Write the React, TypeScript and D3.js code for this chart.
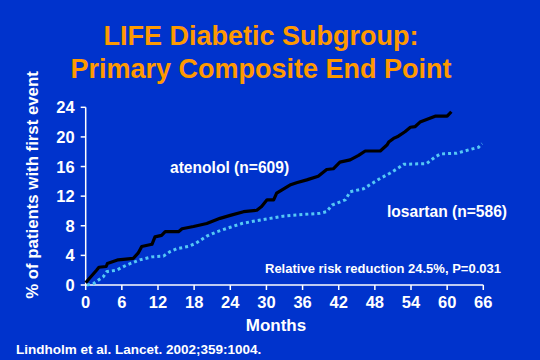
import React, { useEffect, useRef } from 'react';
import * as d3 from 'd3';

// months, cumulative % with first event
const atenololMonths = [0, 0.2, 1.8, 2.2, 3.4, 3.6, 5.4, 7.9, 8.7, 9.3, 11, 11.5, 12.6, 13.2, 15.4, 16, 17.9, 20.1, 22.3, 24, 26.2, 28.4, 29.2, 30.1, 31.2, 31.7, 33.9, 35, 36.7, 38.6, 40, 41.1, 42.2, 43.9, 45.3, 46.4, 48.9, 50, 50.3, 51.1, 51.9, 53, 53.9, 54.7, 55.5, 58, 60, 60.7];
const atenololValues = [0.3, 0.5, 2.0, 2.4, 2.5, 2.9, 3.4, 3.6, 4.3, 5.2, 5.5, 6.5, 6.7, 7.2, 7.2, 7.6, 7.9, 8.3, 9.0, 9.4, 9.9, 10.1, 10.6, 11.5, 11.5, 12.4, 13.5, 13.8, 14.2, 14.7, 15.6, 15.7, 16.6, 16.9, 17.5, 18.1, 18.1, 18.9, 19.3, 19.8, 20.1, 20.7, 21.3, 21.4, 22.0, 22.8, 22.8, 23.4];

const losartanMonths = [0.2, 1.3, 2.9, 3.5, 5.1, 6.8, 9, 11, 12.9, 14, 15.1, 17, 18.2, 20.1, 21.8, 24, 25.9, 28.4, 30.6, 32.8, 38.9, 40, 40.9, 43.1, 43.9, 46.1, 48.9, 50.5, 51.7, 52.8, 56.6, 58, 58.9, 61.6, 63.8, 65.2, 65.8];
const losartanValues = [0, 0.2, 1.1, 1.8, 2.0, 2.7, 3.4, 3.8, 3.9, 4.5, 4.9, 5.2, 5.6, 6.6, 7.2, 7.8, 8.3, 8.7, 9.0, 9.3, 9.7, 9.9, 10.8, 11.5, 12.6, 13.0, 14.4, 15.1, 15.7, 16.3, 16.4, 17.3, 17.7, 17.8, 18.3, 18.6, 19.1];

const xTicks = [0, 6, 12, 18, 24, 30, 36, 42, 48, 54, 60, 66];
const yTicks = [0, 4, 8, 12, 16, 20, 24];

const titleLines = ['LIFE Diabetic Subgroup:', 'Primary Composite End Point'];

export default function App() {
  const svgRef = useRef<SVGSVGElement>(null);

  useEffect(() => {
    const svg = d3.select(svgRef.current);
    svg.selectAll('*').remove();

    const W = 540, H = 360;
    const font = 'Arial, "Liberation Sans", Helvetica, sans-serif';

    svg.append('rect').attr('width', W).attr('height', H).attr('fill', '#0033CC');

    const x = d3.scaleLinear().domain([0, 66]).range([85.7, 483.3]);
    const y = d3.scaleLinear().domain([0, 24]).range([285, 107.3]);

    // title
    svg.selectAll('.title')
      .data(titleLines)
      .join('text')
      .attr('x', 261)
      .attr('y', (d, i) => 45 + i * 32.5)
      .attr('text-anchor', 'middle')
      .attr('font-family', font)
      .attr('font-weight', 'bold')
      .attr('font-size', 27)
      .attr('fill', '#FF9900')
      .text(d => d);

    // axes
    const axisColor = '#FFFFFF';
    const gx = svg.append('g').attr('transform', `translate(0,${y(0)})`);
    gx.append('line').attr('x1', x(0)).attr('x2', x(66)).attr('stroke', axisColor).attr('stroke-width', 1.5);
    gx.selectAll('.tk').data(xTicks).join('line')
      .attr('x1', d => x(d)).attr('x2', d => x(d)).attr('y1', 0).attr('y2', 5)
      .attr('stroke', axisColor).attr('stroke-width', 1.5);
    gx.selectAll('.lbl').data(xTicks).join('text')
      .attr('x', d => x(d)).attr('y', 23)
      .attr('text-anchor', 'middle')
      .attr('font-family', font).attr('font-weight', 'bold').attr('font-size', 16.5)
      .attr('fill', axisColor)
      .text(d => d);

    const gy = svg.append('g').attr('transform', `translate(${x(0)},0)`);
    gy.append('line').attr('y1', y(0)).attr('y2', y(24)).attr('stroke', axisColor).attr('stroke-width', 1.5);
    gy.selectAll('.tk').data(yTicks).join('line')
      .attr('y1', d => y(d)).attr('y2', d => y(d)).attr('x1', -5).attr('x2', 0)
      .attr('stroke', axisColor).attr('stroke-width', 1.5);
    gy.selectAll('.lbl').data(yTicks).join('text')
      .attr('x', -11).attr('y', d => y(d) + 6)
      .attr('text-anchor', 'end')
      .attr('font-family', font).attr('font-weight', 'bold').attr('font-size', 16.5)
      .attr('fill', axisColor)
      .text(d => d);

    // axis titles
    svg.append('text')
      .attr('transform', 'translate(38,185) rotate(-90)')
      .attr('text-anchor', 'middle')
      .attr('font-family', font).attr('font-weight', 'bold').attr('font-size', 16.8)
      .attr('fill', '#FFFFFF')
      .text('% of patients with first event');

    svg.append('text')
      .attr('x', 276).attr('y', 331)
      .attr('text-anchor', 'middle')
      .attr('font-family', font).attr('font-weight', 'bold').attr('font-size', 17)
      .attr('fill', '#FFFFFF')
      .text('Months');

    // curves
    const line = d3.line<[number, number]>()
      .x(d => x(d[0]))
      .y(d => y(d[1]));

    const losartan = losartanMonths.map((m, i) => [m, losartanValues[i]] as [number, number]);
    const atenolol = atenololMonths.map((m, i) => [m, atenololValues[i]] as [number, number]);

    svg.append('path')
      .attr('d', line(losartan))
      .attr('fill', 'none')
      .attr('stroke', '#55C8F5')
      .attr('stroke-width', 3)
      .attr('stroke-dasharray', '3,3');

    svg.append('path')
      .attr('d', line(atenolol))
      .attr('fill', 'none')
      .attr('stroke', '#000000')
      .attr('stroke-width', 3.2)
      .attr('stroke-linejoin', 'round');

    // annotations
    const note = (tx: number, ty: number, size: number, txt: string) =>
      svg.append('text')
        .attr('x', tx).attr('y', ty)
        .attr('font-family', font).attr('font-weight', 'bold').attr('font-size', size)
        .attr('fill', '#FFFFFF')
        .text(txt);

    note(170, 173, 15.6, 'atenolol (n=609)');
    note(387, 217, 15.6, 'losartan (n=586)');
    note(265, 273, 13, 'Relative risk reduction 24.5%, P=0.031');
    note(16, 354, 13.5, 'Lindholm et al. Lancet. 2002;359:1004.');
  }, []);

  return (
    <svg ref={svgRef} width={540} height={360} style={{ position: 'absolute', left: 0, top: 0 }} />
  );
}
